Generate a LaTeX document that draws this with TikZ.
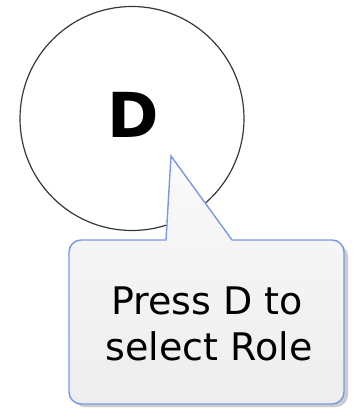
\documentclass[tikz,border=0pt]{standalone}
\usepackage{fontspec}
\setmainfont{DejaVu Sans}
\definecolor{calloutblue}{RGB}{122,152,230}
\definecolor{ringgray}{RGB}{55,55,55}
\tikzset{
  ring/.style={circle, draw=ringgray, line width=1.2pt, fill=white, minimum size=224pt, inner sep=0pt},
  bigletter/.style={font=\fontsize{62}{62}\selectfont\bfseries, inner sep=0pt, anchor=base},
  calloutline/.style={draw=calloutblue, line width=1.4pt, line join=miter, top color=white!98!black, bottom color=white!93!black},
  callouttext/.style={font=\fontsize{38}{46}\selectfont, inner sep=0pt, anchor=base},
  shadowshape/.style={fill=black!20, draw=none}
}
\begin{document}
\begin{tikzpicture}[x=1pt,y=-1pt]
\useasboundingbox (0,0) rectangle (353,409);
\node[ring] (circ) at (132,118.5) {};
\node[bigletter] (dletter) at (133.5,137) {D};
% shadow
\fill[shadowshape, rounded corners=12pt] (73,244) rectangle (348,407);
% callout
\path[calloutline]
  (81,240) -- (166,240) -- (171,156) -- (232,240) -- (332,240)
  arc (-90:0:12) -- (344,392) arc (0:90:12) -- (81,404)
  arc (90:180:12) -- (69,252) arc (180:270:12) -- cycle;
\node[callouttext] (line1) at (207,314) {Press D to};
\node[callouttext] (line2) at (209,360) {select Role};
\end{tikzpicture}
\end{document}
